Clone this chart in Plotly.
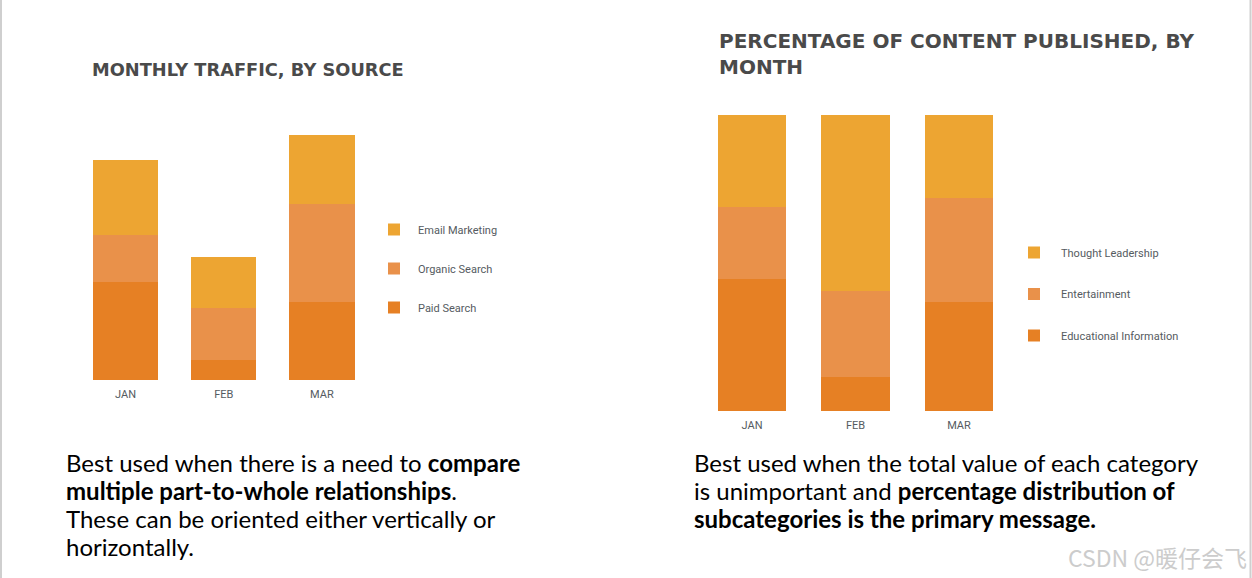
import plotly.graph_objects as go

months = ["JAN", "FEB", "MAR"]

# Left chart: monthly traffic (arbitrary units)
paid_search = [98, 20, 78]
organic_search = [47, 52, 98]
email_marketing = [75, 51, 69]

# Right chart: percentage of content published
educational = [44.6, 11.5, 36.8]
entertainment = [24.3, 29.0, 35.1]
thought_leadership = [31.1, 59.5, 28.1]

left_lines = ["Best used when there is a need to <b>compare</b>",
              "<b>multiple part-to-whole relationships</b>.",
              "These can be oriented either vertically or",
              "horizontally."]
right_lines = ["Best used when the total value of each category",
               "is unimportant and <b>percentage distribution of</b>",
               "<b>subcategories is the primary message.</b>"]

C_TOP = "#EDA532"
C_MID = "#E9914A"
C_BOT = "#E68024"

W, H = 1252, 578

def px_x(p):
    return p / W

def px_y(p):
    return 1 - p / H

fig = go.Figure()

leg_font = dict(family="Roboto, Open Sans, sans-serif", size=11, color="#555b61")

left = [("Paid Search", paid_search, C_BOT, 3),
        ("Organic Search", organic_search, C_MID, 2),
        ("Email Marketing", email_marketing, C_TOP, 1)]
for name, vals, col, rank in left:
    fig.add_trace(go.Bar(x=months, y=vals, name=name, marker=dict(color=col, line=dict(width=0)),
                         xaxis="x", yaxis="y", legend="legend", legendgroup=name, legendrank=rank,
                         hovertemplate="%{x}: %{y}<extra>" + name + "</extra>"))

right = [("Educational Information", educational, C_BOT, 3),
         ("Entertainment", entertainment, C_MID, 2),
         ("Thought Leadership", thought_leadership, C_TOP, 1)]
for name, vals, col, rank in right:
    fig.add_trace(go.Bar(x=months, y=vals, name=name, marker=dict(color=col, line=dict(width=0)),
                         xaxis="x2", yaxis="y2", legend="legend2", legendgroup=name, legendrank=rank,
                         hovertemplate="%{x}: %{y}%<extra>" + name + "</extra>"))

tick_font = dict(family="Roboto, Open Sans, sans-serif", size=11, color="#555b61")

fig.update_layout(
    width=W, height=H,
    margin=dict(l=0, r=0, t=0, b=0),
    paper_bgcolor="white", plot_bgcolor="white",
    barmode="stack",
    bargap=0.335,
    xaxis=dict(domain=[px_x(76.5), px_x(371)], showgrid=False, zeroline=False, showline=False,
               ticks="", tickfont=tick_font, ticklabelstandoff=6, fixedrange=True),
    yaxis=dict(domain=[px_y(380), px_y(135)], range=[0, 245], visible=False, fixedrange=True),
    xaxis2=dict(domain=[px_x(700.25), px_x(1010.75)], anchor="y2", showgrid=False, zeroline=False,
                showline=False, ticks="", tickfont=tick_font, ticklabelstandoff=6, fixedrange=True),
    yaxis2=dict(domain=[px_y(411), px_y(115)], range=[0, 100], anchor="x2", visible=False, fixedrange=True),
    legend=dict(x=px_x(370), y=px_y(215), xanchor="left", yanchor="top", itemwidth=38,
                traceorder="grouped", tracegroupgap=20, font=leg_font,
                bgcolor="rgba(0,0,0,0)"),
    legend2=dict(x=px_x(1007), y=px_y(238), xanchor="left", yanchor="top", itemwidth=44,
                 traceorder="grouped", tracegroupgap=22.5, font=leg_font,
                 bgcolor="rgba(0,0,0,0)"),
    showlegend=True,
)

fig.add_annotation(text="<b>MONTHLY TRAFFIC, BY SOURCE</b>", xref="paper", yref="paper",
                   x=px_x(90), y=px_y(70), xanchor="left", yanchor="middle",
                   showarrow=False, font=dict(family="DejaVu Sans, sans-serif", size=17.8, color="#4a4a4a"))
fig.add_annotation(text="<b>PERCENTAGE OF CONTENT PUBLISHED, BY<br>MONTH</b>", xref="paper", yref="paper",
                   x=px_x(717), y=px_y(54), xanchor="left", yanchor="middle", align="left",
                   showarrow=False, font=dict(family="DejaVu Sans, sans-serif", size=20, color="#4a4a4a"))

body_font = dict(family="Lato, sans-serif", size=24, color="#000000")
for i, line in enumerate(left_lines):
    fig.add_annotation(text=line, xref="paper", yref="paper", x=px_x(64), y=px_y(462 + 28 * i),
                       xanchor="left", yanchor="middle", align="left", showarrow=False, font=body_font)
for i, line in enumerate(right_lines):
    fig.add_annotation(text=line, xref="paper", yref="paper", x=px_x(692), y=px_y(462 + 28 * i),
                       xanchor="left", yanchor="middle", align="left", showarrow=False, font=body_font)

fig.add_annotation(text="CSDN @暖仔会飞", xref="paper", yref="paper", x=px_x(1249), y=px_y(557),
                   xanchor="right", yanchor="middle", showarrow=False,
                   font=dict(family="Noto Sans CJK SC, sans-serif", size=23, color="#cccccc"))

# side borders
fig.add_shape(type="line", xref="paper", yref="paper", x0=px_x(1), x1=px_x(1), y0=0, y1=1,
              line=dict(color="#cfcfcf", width=2))
fig.add_shape(type="line", xref="paper", yref="paper", x0=px_x(1250.5), x1=px_x(1250.5), y0=0, y1=1,
              line=dict(color="#cfcfcf", width=2))

fig.write_html("out.html", config=dict(displayModeBar=False),
               post_script="document.body.style.margin='0';document.body.style.overflow='hidden';")
